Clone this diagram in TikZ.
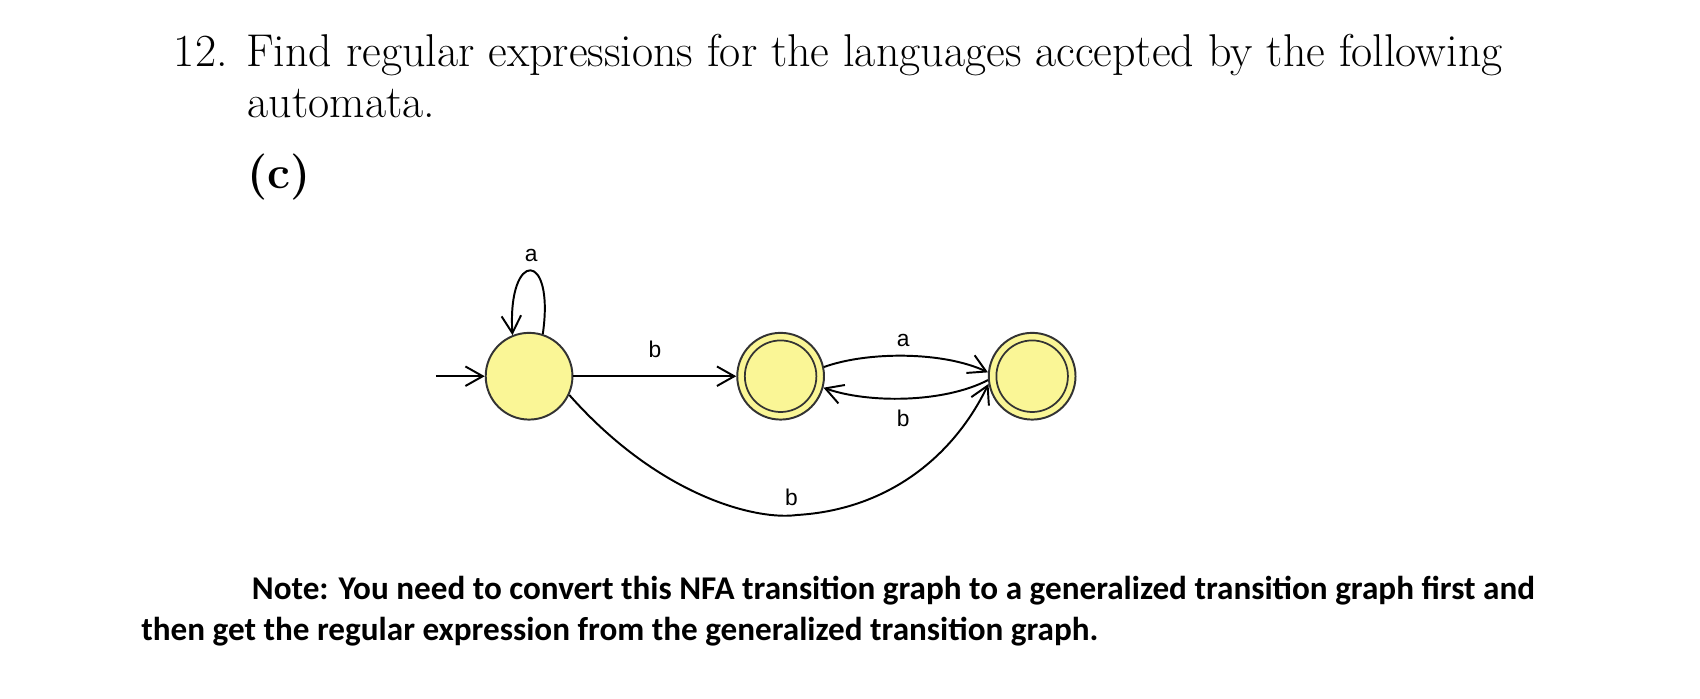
\documentclass[tikz,border=0pt]{standalone}
\usepackage{fontspec}
\newfontfamily\notefont{Carlito}
\newfontfamily\lblfont{Liberation Sans}
\usetikzlibrary{arrows.meta}
\begin{document}
\begin{tikzpicture}[x=0.5pt,y=-0.5pt,
  st/.style={circle,draw=black!80,fill={rgb,255:red,250;green,246;blue,150},minimum size=40pt,inner sep=0pt,line width=0.9pt},
  tr/.style={line width=0.9pt,-{Straight Barb[length=8pt,width=9pt]}},
  inner/.style={circle,draw=black!80,minimum size=33pt,inner sep=0pt,line width=0.8pt},
  lbl/.style={font=\lblfont\fontsize{10.5}{12}\selectfont,inner sep=0pt},
  title/.style={font=\fontsize{21.2}{25}\selectfont,anchor=base west,inner sep=0pt},
  note/.style={font=\notefont\bfseries\fontsize{15.3}{18}\selectfont,anchor=base west,inner sep=0pt}]
\useasboundingbox (0,0) rectangle (1568,644);
\node[title] (t1) at (160,61) {12. Find regular expressions for the languages accepted by the following};
\node[title] (t2) at (228,108) {automata.};
\node[title] (t3) at (228,174) {\textbf{(c)}};
\node[st] (q0) at (488,347) {};
\node[st] (q1) at (720,347) {};
\node[st] (q2) at (952,347) {};
\node[inner] (q1i) at (q1) {};
\node[inner] (q2i) at (q2) {};
\coordinate (s) at (402,347);
\draw[tr] (s) -- (q0);
\draw[tr] (q0.72) .. controls (512,230) and (468,230) .. (q0.112);
\node[lbl] (la) at (490,236) {a};
\draw[tr] (q0) -- (q1) node[lbl,midway,above=8pt] (lb1) {b};
\draw[tr] (q1.12) .. controls (800,324) and (870,324) .. (q2.175);
\node[lbl] (la2) at (833,314) {a};
\draw[tr] (q2.185) .. controls (870,372) and (800,372) .. (q1.345);
\node[lbl] (lb2) at (833,386) {b};
\draw[tr] (q0.335) .. controls (610,460) and (700,480) .. (735,475) .. controls (820,470) and (880,420) .. (q2.190);
\node[lbl] (lb3) at (730,459) {b};
\node[note] (n1) at (232,553) {Note: You need to convert this NFA transition graph to a generalized transition graph first and};
\node[note] (n2) at (130,591) {then get the regular expression from the generalized transition graph.};
\end{tikzpicture}
\end{document}
